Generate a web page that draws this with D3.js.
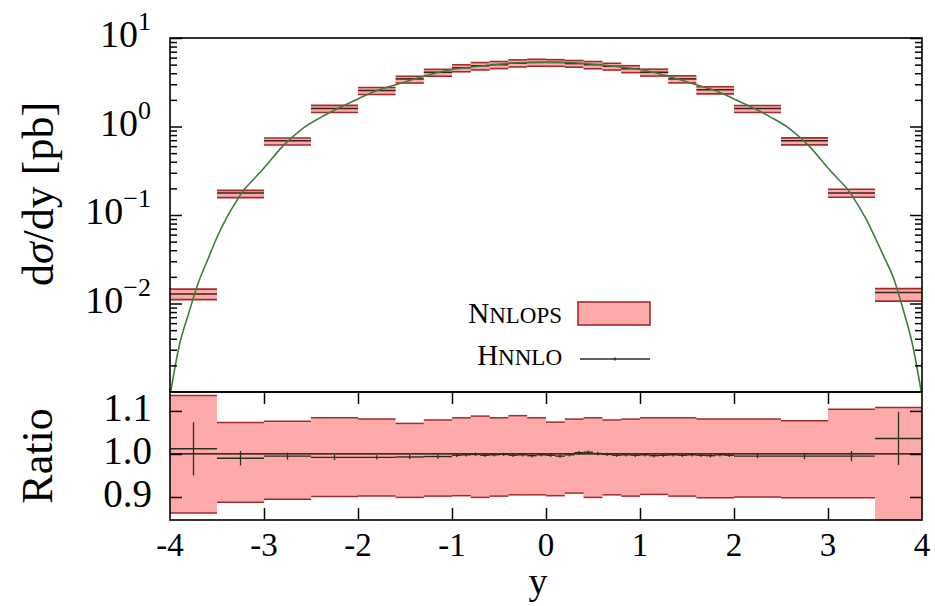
<!DOCTYPE html>
<html><head><meta charset="utf-8">
<script src="https://cdn.jsdelivr.net/npm/d3@7"></script>
<style>body{margin:0;background:#fff} svg{display:block} text{font-family:"Liberation Serif",serif;fill:#000}</style>
</head><body><svg id="c" width="935" height="606"></svg>
<script>
// NNLOPS histogram (top panel) and its relative uncertainty band (ratio panel)
const binEdges = [-4,-3.5,-3,-2.5,-2,-1.6,-1.3,-1,-0.8,-0.6,-0.4,-0.2,0,0.2,0.4,0.6,0.8,1,1.3,1.6,2,2.5,3,3.5,4];
const nnlopsVal = [0.0128,0.177,0.69,1.6,2.55,3.45,4.1,4.6,4.85,5.0,5.2,5.3,5.3,5.15,5.0,4.8,4.5,4.1,3.45,2.6,1.6,0.69,0.177,0.0133];
const bandUp = [1.136,1.073,1.076,1.084,1.081,1.071,1.079,1.084,1.088,1.084,1.089,1.084,1.074,1.081,1.084,1.079,1.081,1.084,1.084,1.081,1.081,1.077,1.104,1.108];
const bandLo = [0.863,0.888,0.895,0.901,0.902,0.899,0.902,0.903,0.899,0.902,0.905,0.905,0.903,0.909,0.899,0.905,0.902,0.906,0.902,0.898,0.900,0.898,0.898,0.80];

// HNNLO curve (top panel)
const hnnloY = [-4,-3.9,-3.8,-3.7,-3.6,-3.5,-3.4,-3.3,-3.2,-3.1,-3,-2.8,-2.6,-2.4,-2.2,-2,-1.8,-1.6,-1.4,-1.2,-1,-0.8,-0.6,-0.4,-0.2,0,0.2,0.4,0.6,0.8,1,1.2,1.4,1.6,1.8,2,2.2,2.4,2.6,2.8,3,3.1,3.2,3.3,3.4,3.5,3.6,3.7,3.8,3.9,4];
const hnnloVal = [0.0009,0.0034,0.0078,0.017,0.031,0.056,0.092,0.14,0.20,0.26,0.34,0.60,0.93,1.26,1.63,2.05,2.55,2.97,3.45,3.95,4.40,4.68,4.95,5.15,5.28,5.32,5.28,5.15,4.95,4.68,4.40,3.95,3.45,2.97,2.55,2.05,1.63,1.26,0.93,0.60,0.34,0.26,0.20,0.14,0.092,0.056,0.033,0.019,0.0085,0.0034,0.0009];

// HNNLO / NNLOPS ratio (ratio panel)
const ratioEdges = [-4,-3.5,-3,-2.5,-2,-1.6,-1.3,-1,-0.9,-0.8,-0.7,-0.6,-0.5,-0.4,-0.3,-0.2,-0.1,0,0.1,0.2,0.3,0.4,0.5,0.6,0.7,0.8,0.9,1,1.1,1.2,1.3,1.4,1.5,1.6,1.7,1.8,1.9,2,2.5,3,3.5,4];
const ratioVal = [1.012,0.990,0.995,0.992,0.992,0.993,0.994,
  0.997,0.998,0.999,0.997,0.998,0.999,0.997,0.998,0.996,0.998,0.997,0.995,0.998,1.003,1.004,1.001,0.999,0.997,0.998,0.997,0.998,0.996,0.997,0.998,0.997,0.998,0.997,0.996,0.998,0.997,
  0.995,0.995,0.995,1.036];
const ratioErr = [0.062,0.017,0.008,0.006,0.005,0.005,0.005,
  0.004,0.004,0.004,0.004,0.004,0.004,0.004,0.004,0.004,0.004,0.004,0.004,0.004,0.004,0.004,0.004,0.004,0.004,0.004,0.004,0.004,0.004,0.004,0.004,0.004,0.004,0.004,0.004,0.004,0.004,
  0.005,0.007,0.012,0.062];

// Axis ticks / labels
const xLabels = [-4,-3,-2,-1,0,1,2,3,4];
const xTicks = [-3,-2,-1,0,1,2,3];
const topMajor = [1e-2,1e-1,1,10];
const topLabelExp = [1,0,-1,-2];
const ratioTicks = [0.9,1.0,1.1];
const ratioLabels = ["1.1","1.0","0.9"];
const ratioLabelVals = [1.1,1.0,0.9];

const L=170,R=922,T=38,M=392,B=520;
const PINK="#ffaaaa", EDGE="#a32b2b", CENTER="#3a2218", GREEN="#3d7d3d", RLINE="#28301c";

const svg = d3.select("#c");
const x = d3.scaleLinear().domain([-4,4]).range([L,R]);
const yT = d3.scaleLog().domain([1e-3,10]).range([M,T]);
const yR = d3.scaleLinear().domain([0.8465,1.144]).range([B,M]);

const defs = svg.append("defs");
defs.append("clipPath").attr("id","clipT").append("rect").attr("x",L).attr("y",T).attr("width",R-L).attr("height",M-T);
defs.append("clipPath").attr("id","clipR").append("rect").attr("x",L).attr("y",M).attr("width",R-L).attr("height",B-M);

// ---------- top panel ----------
const gT = svg.append("g").attr("clip-path","url(#clipT)");
nnlopsVal.forEach((v,i)=>{
  const x0=x(binEdges[i]), x1=x(binEdges[i+1]);
  const yu=yT(v*bandUp[i]), yl=yT(v*bandLo[i]), yc=yT(v);
  gT.append("rect").attr("x",x0).attr("y",yu).attr("width",x1-x0).attr("height",yl-yu).attr("fill",PINK);
  [[yu,EDGE],[yl,EDGE],[yc,CENTER]].forEach(([yy,c])=>{
    gT.append("line").attr("x1",x0).attr("x2",x1).attr("y1",yy).attr("y2",yy).attr("stroke",c).attr("stroke-width",1.6);
  });
});
const curve = d3.line().x(d=>x(d[0])).y(d=>yT(d[1])).curve(d3.curveMonotoneX);
gT.append("path").datum(hnnloY.map((d,i)=>[d,hnnloVal[i]]))
  .attr("d",curve).attr("fill","none").attr("stroke",GREEN).attr("stroke-width",1.6);

// ---------- ratio panel ----------
const gR = svg.append("g").attr("clip-path","url(#clipR)");
const bandData = binEdges.map((e,i)=>{ const k=Math.min(i,bandUp.length-1); return [e,bandUp[k],bandLo[k]]; });
gR.append("path").datum(bandData)
  .attr("d",d3.area().x(d=>x(d[0])).y0(d=>yR(d[2])).y1(d=>yR(d[1])).curve(d3.curveStepAfter))
  .attr("fill",PINK);
bandUp.forEach((u,i)=>{
  const x0=x(binEdges[i]), x1=x(binEdges[i+1]);
  [u,bandLo[i]].forEach(r=>{
    gR.append("line").attr("x1",x0).attr("x2",x1).attr("y1",yR(r)).attr("y2",yR(r)).attr("stroke",EDGE).attr("stroke-width",1.5);
  });
});
gR.append("line").attr("x1",L).attr("x2",R).attr("y1",yR(1)).attr("y2",yR(1)).attr("stroke","#000").attr("stroke-width",1.3);
ratioVal.forEach((v,i)=>{
  const x0=x(ratioEdges[i]), x1=x(ratioEdges[i+1]), xc=(x0+x1)/2;
  gR.append("line").attr("x1",x0).attr("x2",x1).attr("y1",yR(v)).attr("y2",yR(v)).attr("stroke",RLINE).attr("stroke-width",1.4);
  gR.append("line").attr("x1",xc).attr("x2",xc).attr("y1",yR(v+ratioErr[i])).attr("y2",yR(v-ratioErr[i])).attr("stroke",RLINE).attr("stroke-width",1.3);
});

// ---------- axes ----------
function clean(g){ g.select(".domain").remove(); g.selectAll(".tick line").attr("stroke","#000").attr("stroke-width",1.5); }
const minors=[];
[1e-3,1e-2,1e-1,1].forEach(d=>{ for(let k=2;k<=9;k++) minors.push(d*k); });
svg.append("g").attr("transform",`translate(${L},0)`).call(d3.axisLeft(yT).tickValues(topMajor).tickSize(-12).tickFormat("")).call(clean);
svg.append("g").attr("transform",`translate(${L},0)`).call(d3.axisLeft(yT).tickValues(minors).tickSize(-7).tickFormat("")).call(clean);
svg.append("g").attr("transform",`translate(${R},0)`).call(d3.axisRight(yT).tickValues(topMajor).tickSize(-12).tickFormat("")).call(clean);
svg.append("g").attr("transform",`translate(${R},0)`).call(d3.axisRight(yT).tickValues(minors).tickSize(-7).tickFormat("")).call(clean);
svg.append("g").attr("transform",`translate(${L},0)`).call(d3.axisLeft(yR).tickValues(ratioTicks).tickSize(-12).tickFormat("")).call(clean);
svg.append("g").attr("transform",`translate(${R},0)`).call(d3.axisRight(yR).tickValues(ratioTicks).tickSize(-12).tickFormat("")).call(clean);
svg.append("g").attr("transform",`translate(0,${B})`).call(d3.axisBottom(x).tickValues(xTicks).tickSize(-12).tickFormat("")).call(clean);
svg.append("g").attr("transform",`translate(0,${M})`).call(d3.axisTop(x).tickValues(xTicks).tickSize(-12).tickFormat("")).call(clean);

// frames
svg.append("rect").attr("x",L).attr("y",T).attr("width",R-L).attr("height",M-T).attr("fill","none").attr("stroke","#000").attr("stroke-width",1.6);
svg.append("rect").attr("x",L).attr("y",M).attr("width",R-L).attr("height",B-M).attr("fill","none").attr("stroke","#000").attr("stroke-width",1.6);

// tick labels
topLabelExp.forEach(e=>{
  const t = svg.append("text").attr("x",151).attr("y",yT(Math.pow(10,e))+9).attr("text-anchor","end").style("font-size","38px");
  t.append("tspan").text("10");
  t.append("tspan").attr("dy",-17).style("font-size","26px").text(e<0?"\u2212"+(-e):String(e));
});
ratioLabels.forEach((s,i)=>{
  svg.append("text").attr("x",152).attr("y",yR(ratioLabelVals[i])+10).attr("text-anchor","end").style("font-size","39px").text(s);
});
xLabels.forEach(v=>{
  svg.append("text").attr("x",x(v)).attr("y",556).attr("text-anchor","middle").style("font-size","33px").text(String(v));
});

// axis titles
const yt = svg.append("text").attr("transform","translate(53,194) rotate(-90)").attr("text-anchor","middle").style("font-size","44px");
yt.append("tspan").text("d");
yt.append("tspan").style("font-style","italic").text("\u03C3");
yt.append("tspan").text("/dy [pb]");
svg.append("text").attr("transform","translate(52,456) rotate(-90)").attr("text-anchor","middle").style("font-size","44px").text("Ratio");
svg.append("text").attr("x",538).attr("y",594).attr("text-anchor","middle").style("font-size","38px").text("y");

// legend
const l1 = svg.append("text").attr("x",562).attr("y",323).attr("text-anchor","end");
l1.append("tspan").style("font-size","29px").text("N");
l1.append("tspan").style("font-size","23px").text("NLOPS");
svg.append("rect").attr("x",578).attr("y",302).attr("width",72).attr("height",23).attr("fill",PINK).attr("stroke",EDGE).attr("stroke-width",1.6);
const l2 = svg.append("text").attr("x",562).attr("y",365).attr("text-anchor","end");
l2.append("tspan").style("font-size","29px").text("H");
l2.append("tspan").style("font-size","23px").text("NNLO");
svg.append("line").attr("x1",580).attr("x2",650).attr("y1",359).attr("y2",359).attr("stroke",RLINE).attr("stroke-width",1.4);
svg.append("line").attr("x1",615).attr("x2",615).attr("y1",357.5).attr("y2",360.5).attr("stroke",RLINE).attr("stroke-width",1.4);
</script></body></html>
